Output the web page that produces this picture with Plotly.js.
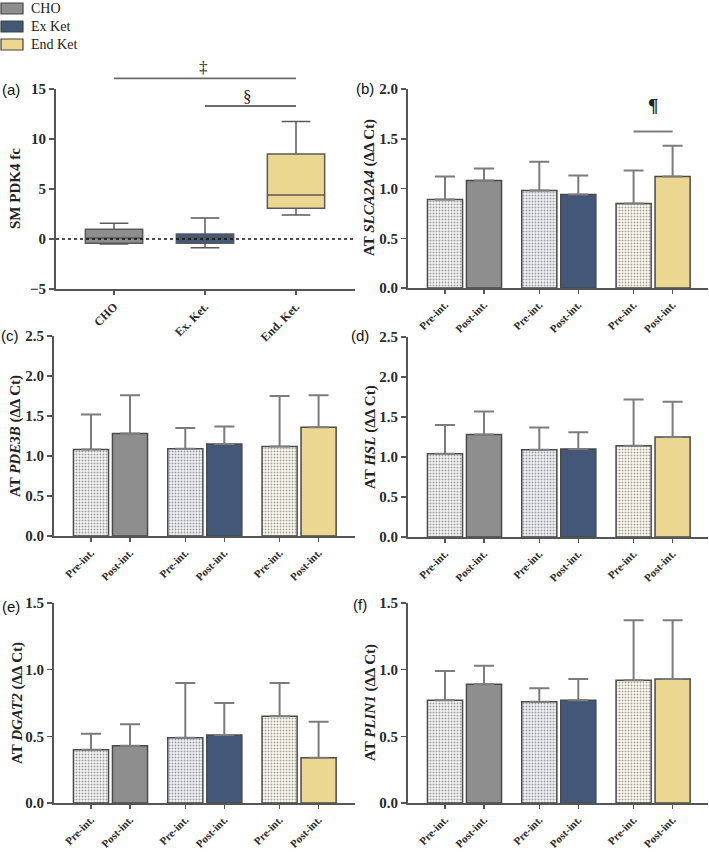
<!DOCTYPE html>
<html>
<head>
<meta charset="utf-8">
<script src="https://cdn.plot.ly/plotly-3.0.1.min.js"></script>
<style>html,body{margin:0;padding:0;background:#fff;}#chart{width:709px;height:852px;}</style>
</head>
<body>
<div id="chart"></div>
<script>
// ---------- data ----------
const boxGroups = ['CHO', 'Ex. Ket.', 'End. Ket.'];
const boxLowerFence = [-0.5, -0.87, 2.4];
const boxQ1 = [-0.43, -0.43, 3.07];
const boxMedian = [0.1, 0.0, 4.41];
const boxQ3 = [0.97, 0.5, 8.49];
const boxUpperFence = [1.57, 2.1, 11.76];

const groupNames = ['CHO', 'Ex. Ket.', 'End. Ket.'];
const timeLabels = ['Pre-int.', 'Post-int.'];

const slc2a4Pre = [0.89, 0.98, 0.85];
const slc2a4PreSD = [0.23, 0.29, 0.33];
const slc2a4Post = [1.08, 0.94, 1.12];
const slc2a4PostSD = [0.12, 0.19, 0.31];

const pde3bPre = [1.08, 1.09, 1.12];
const pde3bPreSD = [0.44, 0.26, 0.63];
const pde3bPost = [1.28, 1.15, 1.36];
const pde3bPostSD = [0.48, 0.22, 0.40];

const hslPre = [1.04, 1.09, 1.14];
const hslPreSD = [0.36, 0.28, 0.58];
const hslPost = [1.28, 1.10, 1.25];
const hslPostSD = [0.29, 0.21, 0.44];

const dgat2Pre = [0.40, 0.49, 0.65];
const dgat2PreSD = [0.12, 0.41, 0.25];
const dgat2Post = [0.43, 0.51, 0.34];
const dgat2PostSD = [0.16, 0.24, 0.27];

const plin1Pre = [0.77, 0.76, 0.92];
const plin1PreSD = [0.22, 0.10, 0.45];
const plin1Post = [0.89, 0.77, 0.93];
const plin1PostSD = [0.14, 0.16, 0.44];

const legendNames = ['CHO', 'Ex Ket', 'End Ket'];

// ---------- style ----------
const W = 709, H = 852;
const groupColors = ['#8e8e8e', '#435778', '#ebd78f'];
const preBg = ['#f7f7f7', '#f3f4f8', '#fffdf1'];
const preFg = ['#d6d6d6', '#c9cfdc', '#f1e7c3'];
const outline = '#4a4a4a';
const axisColor = '#555555';
const serif = 'Liberation Serif, Times New Roman, serif';
const sans = 'Liberation Sans, Arial, sans-serif';
const bargap = 0.173, bargroupgap = 0.1;
const halfOffset = (1 - bargap) / 4;

const px = p => p / W;
const py = p => 1 - p / H;

const traces = [];
// panel (a) boxes
boxGroups.forEach((g, i) => {
  traces.push({
    type: 'box', xaxis: 'x', yaxis: 'y',
    x: [g], q1: [boxQ1[i]], median: [boxMedian[i]], q3: [boxQ3[i]],
    lowerfence: [boxLowerFence[i]], upperfence: [boxUpperFence[i]],
    fillcolor: groupColors[i], line: {color: '#5a5a5a', width: 1.5},
    width: 0.63, whiskerwidth: 0.5, boxpoints: false, showlegend: false, hoverinfo: 'skip'
  });
});

const barPanels = [
  {pre: slc2a4Pre, preSD: slc2a4PreSD, post: slc2a4Post, postSD: slc2a4PostSD, ax: 2},
  {pre: pde3bPre, preSD: pde3bPreSD, post: pde3bPost, postSD: pde3bPostSD, ax: 3},
  {pre: hslPre, preSD: hslPreSD, post: hslPost, postSD: hslPostSD, ax: 4},
  {pre: dgat2Pre, preSD: dgat2PreSD, post: dgat2Post, postSD: dgat2PostSD, ax: 5},
  {pre: plin1Pre, preSD: plin1PreSD, post: plin1Post, postSD: plin1PostSD, ax: 6}
];
const groupIdx = groupNames.map((_, i) => i);
barPanels.forEach(p => {
  const err = sd => ({type: 'data', symmetric: false, array: sd, arrayminus: sd.map(() => 0),
    color: '#7c7c7c', thickness: 2, width: 10});
  traces.push({
    type: 'bar', xaxis: 'x' + p.ax, yaxis: 'y' + p.ax, x: groupIdx, y: p.pre,
    name: timeLabels[0],
    marker: {color: preBg, line: {color: outline, width: 1.5},
      pattern: {shape: '.', bgcolor: preBg, fgcolor: preFg, size: 3, solidity: 0.35, fillmode: 'overlay'}},
    error_y: err(p.preSD), showlegend: false, hoverinfo: 'skip'
  });
  traces.push({
    type: 'bar', xaxis: 'x' + p.ax, yaxis: 'y' + p.ax, x: groupIdx, y: p.post,
    name: timeLabels[1],
    marker: {color: groupColors, line: {color: outline, width: 1.5}},
    error_y: err(p.postSD), showlegend: false, hoverinfo: 'skip'
  });
});

const tickFont = {family: serif, size: 15, color: '#2a2a2a', weight: 700};
const xTickFont = {family: serif, size: 11, color: '#2a2a2a', weight: 700};
const baseY = {showline: true, linecolor: axisColor, linewidth: 2, ticks: 'outside', ticklen: 5,
  tickwidth: 1.5, tickcolor: axisColor, showgrid: false, zeroline: false, tickfont: tickFont, fixedrange: true};
const barTickVals = [];
const barTickText = [];
groupIdx.forEach(i => { barTickVals.push(i - halfOffset, i + halfOffset); barTickText.push(timeLabels[0], timeLabels[1]); });
const baseX = {showline: true, linecolor: axisColor, linewidth: 2, ticks: 'outside', ticklen: 4,
  tickwidth: 1.5, tickcolor: axisColor, showgrid: false, zeroline: false, tickangle: -45, fixedrange: true};
const barX = (l, r, range) => Object.assign({}, baseX, {
  domain: [px(l), px(r)], range: range, tickmode: 'array', tickvals: barTickVals, ticktext: barTickText,
  tickfont: xTickFont});

const sp = 94.3;
const leftRange = [(54 - 110.5) / sp, (355 - 110.5) / sp];
const rightRange = [(408 - 464.5) / sp, (708 - 464.5) / sp];

const layout = {
  width: W, height: H, margin: {l: 0, r: 0, t: 0, b: 0},
  paper_bgcolor: '#fff', plot_bgcolor: 'rgba(0,0,0,0)',
  barmode: 'group', bargap: bargap, bargroupgap: bargroupgap, showlegend: false,
  xaxis: Object.assign({}, baseX, {domain: [px(56), px(355)], type: 'category',
    range: [(56 - 114) / 91, (355 - 114) / 91], tickfont: {family: serif, size: 12, color: '#2a2a2a', weight: 700}}),
  yaxis: Object.assign({}, baseY, {domain: [py(289), py(89)], range: [-5, 15], dtick: 5, tick0: 0}),
  xaxis2: barX(408, 708, rightRange),
  yaxis2: Object.assign({}, baseY, {domain: [py(288), py(89)], range: [0, 2], dtick: 0.5, tickformat: '.1f'}),
  xaxis3: barX(54, 355, leftRange),
  yaxis3: Object.assign({}, baseY, {domain: [py(536), py(336)], range: [0, 2.5], dtick: 0.5, tickformat: '.1f'}),
  xaxis4: barX(408, 708, rightRange),
  yaxis4: Object.assign({}, baseY, {domain: [py(537), py(337)], range: [0, 2.5], dtick: 0.5, tickformat: '.1f'}),
  xaxis5: barX(54, 355, leftRange),
  yaxis5: Object.assign({}, baseY, {domain: [py(803), py(603)], range: [0, 1.5], dtick: 0.5, tickformat: '.1f'}),
  xaxis6: barX(408, 708, rightRange),
  yaxis6: Object.assign({}, baseY, {domain: [py(803), py(603)], range: [0, 1.5], dtick: 0.5, tickformat: '.1f'}),
  shapes: [],
  annotations: []
};
for (let k = 2; k <= 6; k++) { layout['xaxis' + k].anchor = 'y' + k; layout['yaxis' + k].anchor = 'x' + k; }
layout.xaxis.anchor = 'y'; layout.yaxis.anchor = 'x';

// helper: panel (a) value -> paper y
const aTop = 89, aBot = 289, aMin = -5, aMax = 15;
const aY = v => py(aBot - (v - aMin) / (aMax - aMin) * (aBot - aTop));

// dotted zero line in (a)
layout.shapes.push({type: 'line', xref: 'x domain', yref: 'y', x0: 0, x1: 1, y0: 0, y1: 0,
  line: {color: '#111', width: 1.5, dash: 'dot'}, layer: 'above'});
// significance lines (a)
layout.shapes.push({type: 'line', xref: 'x', yref: 'paper', x0: 'CHO', x1: 'End. Ket.', y0: aY(16.07), y1: aY(16.07),
  line: {color: '#6a6a6a', width: 1.8}});
layout.shapes.push({type: 'line', xref: 'x', yref: 'paper', x0: 'Ex. Ket.', x1: 'End. Ket.', y0: aY(13.3), y1: aY(13.3),
  line: {color: '#6a6a6a', width: 1.8}});
layout.annotations.push({xref: 'x', yref: 'paper', x: 1, y: aY(17.3), text: '‡', showarrow: false,
  font: {family: serif, size: 17, color: '#222'}, xshift: -2, yshift: 10});
layout.annotations.push({xref: 'x', yref: 'paper', x: 1.47, y: aY(14.45), text: '§', showarrow: false,
  font: {family: serif, size: 17, color: '#222'}, yshift: 10});
// significance (b)
layout.shapes.push({type: 'line', xref: 'x2', yref: 'y2', x0: 2 - halfOffset, x1: 2 + halfOffset, y0: 1.573, y1: 1.573,
  line: {color: '#7c7c7c', width: 1.8}});
layout.annotations.push({xref: 'x2', yref: 'y2', x: 2, y: 1.79, text: '<b>¶</b>', showarrow: false,
  font: {family: serif, size: 19, color: '#222'}, yshift: 4});

// y titles
const yTitles = [
  {t: 'SM PDK4 fc', x: 15, y: 189},
  {t: 'AT <i>SLCA2A4</i> (ΔΔ Ct)', x: 370, y: 188},
  {t: 'AT <i>PDE3B</i> (ΔΔ Ct)', x: 16, y: 436},
  {t: 'AT <i>HSL</i> (ΔΔ Ct)', x: 370, y: 437},
  {t: 'AT <i>DGAT2</i> (ΔΔ Ct)', x: 17, y: 703},
  {t: 'AT <i>PLIN1</i> (ΔΔ Ct)', x: 370, y: 703}
];
yTitles.forEach(o => layout.annotations.push({xref: 'paper', yref: 'paper', x: px(o.x), y: py(o.y),
  text: o.t, textangle: -90, showarrow: false, xanchor: 'center', yanchor: 'middle',
  font: {family: serif, size: 15, color: '#222', weight: 700}}));

// panel letters
const letters = [['(a)', 11, 89], ['(b)', 365, 88], ['(c)', 10, 336], ['(d)', 360, 336], ['(e)', 11, 606], ['(f)', 360, 604]];
letters.forEach(l => layout.annotations.push({xref: 'paper', yref: 'paper', x: px(l[1]), y: py(l[2]),
  text: l[0], showarrow: false, xanchor: 'center', yanchor: 'middle',
  font: {family: sans, size: 15, color: '#111'}}));

// legend (drawn)
const legTops = [3, 21, 39];
legendNames.forEach((n, i) => {
  layout.shapes.push({type: 'rect', xref: 'paper', yref: 'paper', x0: px(1), x1: px(23), y0: py(legTops[i]), y1: py(legTops[i] + 11),
    fillcolor: groupColors[i], line: {color: '#444', width: 1.2}});
  layout.annotations.push({xref: 'paper', yref: 'paper', x: px(29), y: py(legTops[i] + 5.5), text: n, showarrow: false,
    xanchor: 'left', yanchor: 'middle', font: {family: serif, size: 14, color: '#222'}});
});

Plotly.newPlot('chart', traces, layout, {staticPlot: true, displayModeBar: false});
</script>
</body>
</html>
